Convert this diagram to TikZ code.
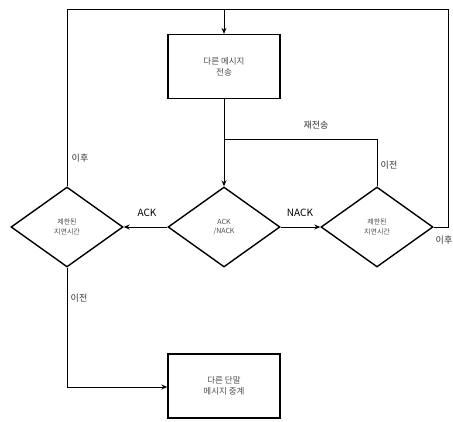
\documentclass[tikz,border=0pt]{standalone}
\usepackage{fontspec}
\setmainfont{Noto Sans CJK KR}
\usetikzlibrary{shapes.geometric,arrows.meta}
\begin{document}
\begin{tikzpicture}[x=1pt,y=-1pt,
  box/.style={draw,line width=1.4pt,minimum width=112pt,minimum height=64pt,inner sep=0pt,align=center,font=\fontsize{8.5}{11}\selectfont,text=black!70},
  dia/.style={draw,line width=1.4pt,diamond,minimum width=112pt,minimum height=80pt,inner sep=0pt,aspect=1.4,align=center,font=\fontsize{7}{9.5}\selectfont,text=black!70},
  conn/.style={line width=1pt},
  arr/.style={conn,-{Stealth[length=6pt,width=5pt]}},
  lab/.style={font=\fontsize{9}{10}\selectfont,text=black!80},
  biglab/.style={font=\fontsize{10}{11}\selectfont,text=black}]
\useasboundingbox (0,0) rectangle (453,421);
\node[box] (send) at (224,66.5) {다른 메시지\\전송};
\node[dia] (ack) at (224,227) {ACK\\/NACK};
\node[dia] (rdl) at (377,227) {제한된\\지연시간};
\node[dia] (ldl) at (67,227) {제한된\\지연시간};
\node[box] (relay) at (224,386) {다른 단말\\메시지 중계};
\coordinate (tl) at (67,9);
\coordinate (tm) at (224,9);
\coordinate (tr) at (448,9);
\coordinate (rr) at (448,227);
\coordinate (rt) at (377,139);
\coordinate (mt) at (224,139);
\coordinate (lb) at (67,387);
% top loop
\draw[conn] (ldl.north) -- (tl) -- (tr) -- (rr) -- (rdl.east);
\draw[arr] (tm) -- (send.north);
\draw[arr] (send.south) -- (ack.north);
\draw[conn] (rdl.north) -- (rt) -- (mt);
\draw[arr] (ack.east) -- (rdl.west);
\draw[arr] (ack.west) -- (ldl.east);
\draw[arr] (ldl.south) -- (lb) -- (relay.west |- lb);
% labels
\node[biglab,anchor=south] (nack) at (300,220) {NACK};
\node[biglab,anchor=south] (ackl) at (147,220) {ACK};
\node[lab] (re) at (316,125) {재전송};
\node[lab] (bef1) at (389,165) {이전};
\node[lab] (aft1) at (444,240) {이후};
\node[lab] (aft2) at (80,158) {이후};
\node[lab] (bef2) at (79,298) {이전};
\end{tikzpicture}
\end{document}
